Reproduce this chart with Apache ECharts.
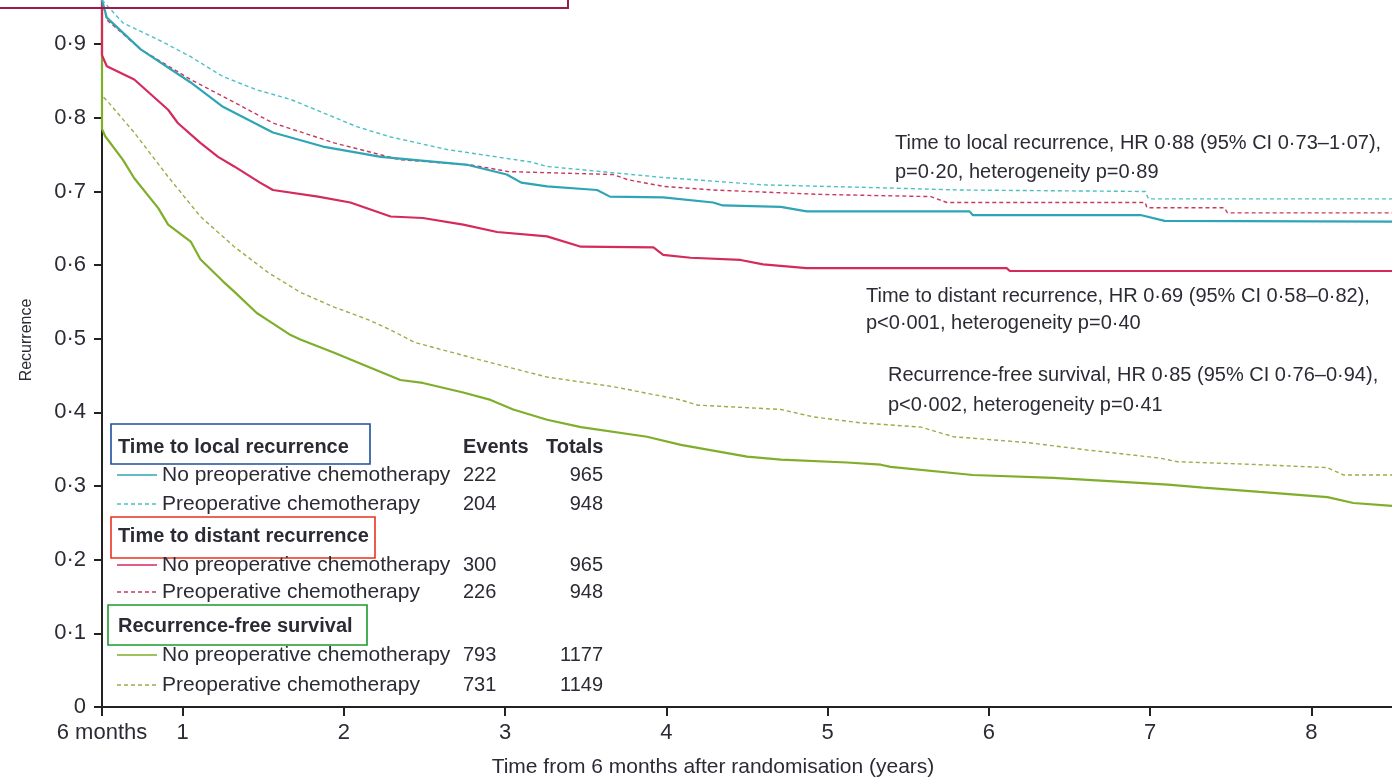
<!DOCTYPE html>
<html><head><meta charset="utf-8">
<script src="https://cdn.jsdelivr.net/npm/echarts@6/dist/echarts.min.js"></script>
<style>html,body{margin:0;padding:0;background:#fff}#c{width:1392px;height:779px}</style>
</head><body><div id="c"></div>
<script>
// ---- axis ticks ----
const xTicks = [0.5, 1, 2, 3, 4, 5, 6, 7, 8];
const xTickLabels = ['6 months', '1', '2', '3', '4', '5', '6', '7', '8'];
const yTicks = [0, 0.1, 0.2, 0.3, 0.4, 0.5, 0.6, 0.7, 0.8, 0.9];
const yTickLabels = ['0', '0·1', '0·2', '0·3', '0·4', '0·5', '0·6', '0·7', '0·8', '0·9'];

// ---- curves (time in years, cumulative proportion) ----
const localNoT = [0.5, 0.53, 0.74, 1.05, 1.25, 1.56, 1.87, 2.23, 2.77, 3.01, 3.10, 3.26, 3.57, 3.65, 3.98, 4.29, 4.35, 4.71, 4.87, 5.88, 5.90, 6.94, 7.09, 8.5];
const localNoV = [0.96, 0.936, 0.893, 0.848, 0.815, 0.780, 0.761, 0.747, 0.736, 0.723, 0.712, 0.707, 0.702, 0.693, 0.692, 0.685, 0.681, 0.679, 0.673, 0.673, 0.668, 0.668, 0.660, 0.659];

const localPreT = [0.5, 0.63, 0.85, 1.05, 1.25, 1.46, 1.67, 1.87, 2.08, 2.29, 2.64, 3.16, 3.26, 3.98, 4.60, 5.33, 5.82, 6.97, 6.99, 8.5];
const localPreV = [0.96, 0.929, 0.906, 0.883, 0.856, 0.838, 0.825, 0.807, 0.788, 0.774, 0.757, 0.740, 0.734, 0.719, 0.709, 0.705, 0.702, 0.700, 0.690, 0.690];

const distNoT = [0.5, 0.5, 0.53, 0.70, 0.91, 0.97, 1.11, 1.22, 1.32, 1.48, 1.56, 1.84, 2.04, 2.29, 2.49, 2.74, 2.95, 3.26, 3.47, 3.92, 3.98, 4.15, 4.46, 4.60, 4.87, 6.11, 6.13, 8.5];
const distNoV = [0.96, 0.885, 0.870, 0.852, 0.811, 0.793, 0.766, 0.747, 0.734, 0.712, 0.702, 0.693, 0.685, 0.666, 0.664, 0.655, 0.645, 0.639, 0.625, 0.624, 0.614, 0.610, 0.607, 0.601, 0.596, 0.596, 0.592, 0.592];

const distPreT = [0.5, 0.53, 0.74, 1.05, 1.32, 1.56, 1.94, 2.35, 2.79, 3.02, 3.67, 3.76, 3.98, 4.29, 4.96, 5.64, 5.74, 6.97, 6.98, 7.46, 7.48, 8.5];
const distPreV = [0.96, 0.933, 0.893, 0.852, 0.821, 0.793, 0.766, 0.743, 0.736, 0.727, 0.723, 0.716, 0.707, 0.702, 0.696, 0.693, 0.685, 0.685, 0.678, 0.678, 0.671, 0.671];

const rfsNoT = [0.5, 0.5, 0.52, 0.63, 0.70, 0.85, 0.91, 1.05, 1.11, 1.25, 1.32, 1.46, 1.53, 1.67, 1.73, 1.94, 2.15, 2.35, 2.49, 2.74, 2.91, 3.05, 3.26, 3.47, 3.88, 4.09, 4.50, 4.71, 5.12, 5.33, 5.39, 5.90, 6.40, 6.80, 7.11, 7.33, 7.68, 8.10, 8.26, 8.5];
const rfsNoV = [0.96, 0.785, 0.775, 0.743, 0.718, 0.677, 0.655, 0.632, 0.608, 0.578, 0.564, 0.535, 0.525, 0.505, 0.499, 0.481, 0.462, 0.444, 0.440, 0.427, 0.417, 0.404, 0.390, 0.380, 0.367, 0.356, 0.340, 0.336, 0.332, 0.329, 0.326, 0.315, 0.311, 0.306, 0.302, 0.298, 0.292, 0.285, 0.277, 0.273];

const rfsPreT = [0.5, 0.5, 0.54, 0.70, 0.91, 1.11, 1.32, 1.53, 1.73, 1.94, 2.15, 2.29, 2.44, 2.85, 3.26, 3.67, 4.09, 4.19, 4.71, 4.91, 5.20, 5.58, 5.78, 6.24, 6.61, 7.06, 7.17, 7.68, 8.10, 8.20, 8.5];
const rfsPreV = [0.96, 0.83, 0.821, 0.780, 0.720, 0.666, 0.625, 0.590, 0.563, 0.543, 0.526, 0.512, 0.495, 0.471, 0.448, 0.435, 0.417, 0.410, 0.404, 0.394, 0.386, 0.380, 0.367, 0.359, 0.349, 0.338, 0.333, 0.329, 0.325, 0.315, 0.315];

// ---- legend table ----
const groupTitles = ['Time to local recurrence', 'Time to distant recurrence', 'Recurrence-free survival'];
const armNames = ['No preoperative chemotherapy', 'Preoperative chemotherapy'];
const events = [[222, 204], [300, 226], [793, 731]];
const totals = [[965, 948], [965, 948], [1177, 1149]];
const tableHeads = ['Events', 'Totals'];

// ---- annotations ----
const hrLines = [
  ['Time to local recurrence, HR 0·88 (95% CI 0·73–1·07),', 'p=0·20, heterogeneity p=0·89'],
  ['Time to distant recurrence, HR 0·69 (95% CI 0·58–0·82),', 'p<0·001, heterogeneity p=0·40'],
  ['Recurrence-free survival, HR 0·85 (95% CI 0·76–0·94),', 'p<0·002, heterogeneity p=0·41']
];
const xTitle = 'Time from 6 months after randomisation (years)';
const yTitle = 'Recurrence';

// ---- styling ----
const FONT = '"Liberation Sans",Arial,sans-serif';
const TXT = '#2b2b35';
const colors = {
  localNo: '#2ea5b5', localPre: '#4cc0c4',
  distNo: '#d42a5c', distPre: '#c93a5e',
  rfsNo: '#7fae2a', rfsPre: '#98ae48'
};

function zip(t, v) { return t.map((x, i) => [x, v[i]]); }
function mk(name, t, v, color, dashed, z) {
  return {
    type: 'line', name, data: zip(t, v), showSymbol: false, symbol: 'none',
    clip: true, z: z, silent: true,
    lineStyle: { color, width: dashed ? 1.4 : 2.2, type: dashed ? [4, 3] : 'solid' }
  };
}

const series = [
  mk('rfsPre', rfsPreT, rfsPreV, colors.rfsPre, true, 2),
  mk('rfsNo', rfsNoT, rfsNoV, colors.rfsNo, false, 2),
  mk('distPre', distPreT, distPreV, colors.distPre, true, 3),
  mk('distNo', distNoT, distNoV, colors.distNo, false, 3),
  mk('localNo', localNoT, localNoV, colors.localNo, false, 4),
  mk('localPre', localPreT, localPreV, colors.localPre, true, 4)
];

// ---- graphic: legend table, boxes, annotations ----
const g = [];
function txt(x, y, s, opt) {
  g.push({ type: 'text', x, y, z: 20, silent: true,
    style: Object.assign({ text: s, fill: TXT, font: '20px ' + FONT, textAlign: 'left', textVerticalAlign: 'middle' }, opt || {}) });
}
const titleY = [447, 536, 626];
const rowY = [[475, 504], [565, 592], [655, 685]];
const keyColors = [[colors.localNo, colors.localPre], [colors.distNo, colors.distPre], [colors.rfsNo, colors.rfsPre]];
const boxes = [
  { x: 111, y: 424, w: 259, h: 40, c: '#1f4f9c' },
  { x: 111, y: 517, w: 264, h: 41, c: '#e8331f' },
  { x: 108, y: 605, w: 259, h: 40, c: '#1c9a2c' }
];
boxes.forEach(b => g.push({ type: 'rect', z: 19, silent: true, shape: { x: b.x, y: b.y, width: b.w, height: b.h },
  style: { fill: 'rgba(255,255,255,0)', stroke: b.c, lineWidth: 1.6 } }));
txt(463, 447, tableHeads[0], { font: 'bold 20px ' + FONT });
txt(546, 447, tableHeads[1], { font: 'bold 20px ' + FONT });
groupTitles.forEach((t, gi) => {
  txt(118, titleY[gi], t, { font: 'bold 20px ' + FONT });
  armNames.forEach((a, ai) => {
    const y = rowY[gi][ai];
    g.push({ type: 'line', z: 19, silent: true, shape: { x1: 117, y1: y, x2: 157, y2: y },
      style: { stroke: keyColors[gi][ai], lineWidth: ai === 0 ? 1.6 : 1.3, lineDash: ai === 0 ? null : [4, 3] } });
    txt(162, y, a, { font: '21px ' + FONT });
    txt(463, y, String(events[gi][ai]));
    txt(603, y, String(totals[gi][ai]), { textAlign: 'right' });
  });
});
const hrPos = [[895, 143, 172], [866, 296, 323], [888, 375, 405]];
hrLines.forEach((l, i) => {
  txt(hrPos[i][0], hrPos[i][1], l[0]);
  txt(hrPos[i][0], hrPos[i][2], l[1]);
});
txt(713, 767, xTitle, { textAlign: 'center', font: '21px ' + FONT });
g.push({ type: 'text', x: 27, y: 340, rotation: Math.PI / 2, z: 20, silent: true,
  style: { text: yTitle, fill: TXT, font: '16px ' + FONT, textAlign: 'center', textVerticalAlign: 'middle' } });
// frame fragment at top-left
g.push({ type: 'rect', z: 21, silent: true, shape: { x: -4, y: -20, width: 572, height: 28 },
  style: { fill: 'rgba(255,255,255,0)', stroke: '#9b1b4b', lineWidth: 2 } });

const chart = echarts.init(document.getElementById('c'), null, { renderer: 'canvas' });
chart.setOption({
  animation: false,
  backgroundColor: '#ffffff',
  grid: { left: 102, right: 0, top: 0, bottom: 72, containLabel: false },
  xAxis: {
    type: 'value', min: 0.5, max: 8.5,
    axisLine: { show: true, lineStyle: { color: '#222', width: 2 } },
    axisTick: { show: true, length: 9, lineStyle: { color: '#222', width: 2 }, customValues: xTicks },
    axisLabel: { customValues: xTicks, margin: 15, color: TXT, fontSize: 22, fontFamily: FONT,
      formatter: v => xTickLabels[xTicks.findIndex(t => Math.abs(t - v) < 1e-6)] },
    splitLine: { show: false }
  },
  yAxis: {
    type: 'value', min: 0, max: 0.96,
    axisLine: { show: true, lineStyle: { color: '#222', width: 2 } },
    axisTick: { show: true, length: 8, lineStyle: { color: '#222', width: 2 }, customValues: yTicks },
    axisLabel: { customValues: yTicks, margin: 16, color: TXT, fontSize: 22, fontFamily: FONT,
      formatter: v => yTickLabels[yTicks.findIndex(t => Math.abs(t - v) < 1e-6)] },
    splitLine: { show: false }
  },
  series,
  graphic: g
});
</script></body></html>
